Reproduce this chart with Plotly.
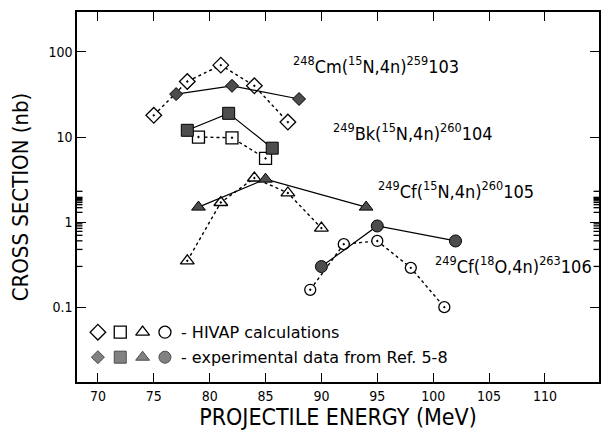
import math
import plotly.graph_objects as go

# Projectile energies (MeV) and cross sections (nb)
cm_calc_e = [75, 78, 81, 84, 87]
cm_calc_s = [18, 45, 70, 40, 15]
cm_exp_e = [77, 82, 88]
cm_exp_s = [32, 40, 28]

bk_calc_e = [79, 82, 85]
bk_calc_s = [10, 9.8, 5.6]
bk_exp_e = [78, 81.7, 85.6]
bk_exp_s = [12, 19, 7.4]

cf15_calc_e = [78, 81, 84, 87, 90]
cf15_calc_s = [0.35, 1.7, 3.3, 2.2, 0.85]
cf15_exp_e = [79, 85, 94]
cf15_exp_s = [1.5, 3.2, 1.5]

cf18_calc_e = [89, 92, 95, 98, 101]
cf18_calc_s = [0.16, 0.55, 0.6, 0.29, 0.1]
cf18_exp_e = [90, 95, 102]
cf18_exp_s = [0.3, 0.9, 0.6]

reactions = [
    "<sup>248</sup>Cm(<sup>15</sup>N,4n)<sup>259</sup>103",
    "<sup>249</sup>Bk(<sup>15</sup>N,4n)<sup>260</sup>104",
    "<sup>249</sup>Cf(<sup>15</sup>N,4n)<sup>260</sup>105",
    "<sup>249</sup>Cf(<sup>18</sup>O,4n)<sup>263</sup>106",
]
reaction_x = [87.3, 90.9, 94.9, 100.0]
reaction_y = [70, 11.6, 2.4, 0.31]

legend_x = [70, 72, 74, 76]
legend_y_calc = 0.0508
legend_y_exp = 0.0258
legend_text = ["- HIVAP calculations", "- experimental data from Ref. 5-8"]

x_ticks = [70, 75, 80, 85, 90, 95, 100, 105, 110]
y_log_range = [-1.88, 2.47]

FONT = "DejaVu Sans Condensed, DejaVu Sans, sans-serif"
FONT_WIDE = "DejaVu Sans, sans-serif"
FILL = "#4d4d4d"

calc_series = [
    (cm_calc_e, cm_calc_s, "diamond-dot", 12),
    (bk_calc_e, bk_calc_s, "square-dot", 12),
    (cf15_calc_e, cf15_calc_s, "triangle-up-dot", 12),
    (cf18_calc_e, cf18_calc_s, "circle-dot", 11),
]
exp_series = [
    (cm_exp_e, cm_exp_s, "diamond", 10),
    (bk_exp_e, bk_exp_s, "square", 12),
    (cf15_exp_e, cf15_exp_s, "triangle-up", 12),
    (cf18_exp_e, cf18_exp_s, "circle", 12),
]

fig = go.Figure()

for e, s, sym, size in calc_series:
    fig.add_trace(go.Scatter(
        x=e, y=s, mode="lines+markers",
        line=dict(color="black", width=1.4, dash="dot"),
        marker=dict(symbol=sym, size=size, color="white",
                    line=dict(color="black", width=1.3)),
        showlegend=False,
    ))

for e, s, sym, size in exp_series:
    fig.add_trace(go.Scatter(
        x=e, y=s, mode="lines+markers",
        line=dict(color="black", width=1.2),
        marker=dict(symbol=sym, size=size, color=FILL,
                    line=dict(color="black", width=1)),
        showlegend=False,
    ))

# legend keys
open_syms = ["diamond-open", "square-open", "triangle-up-open", "circle-open"]
filled_syms = ["diamond", "square", "triangle-up", "circle"]
fig.add_trace(go.Scatter(
    x=legend_x, y=[legend_y_calc] * 4, mode="markers",
    marker=dict(symbol=open_syms, size=12, color="black",
                line=dict(color="black", width=1.3)),
    showlegend=False, hoverinfo="skip",
))
fig.add_trace(go.Scatter(
    x=legend_x, y=[legend_y_exp] * 4, mode="markers",
    marker=dict(symbol=filled_syms, size=[10, 12, 12, 12], color=FILL,
                line=dict(color="black", width=1)),
    showlegend=False, hoverinfo="skip",
))

# annotations on a log axis take log10 positions
for txt, ly in zip(legend_text, [legend_y_calc, legend_y_exp]):
    fig.add_annotation(x=77.3, y=math.log10(ly), xref="x", yref="y", text=txt,
                       showarrow=False, xanchor="left", yanchor="middle",
                       font=dict(family=FONT_WIDE, size=16, color="black"))

for txt, rx, ry in zip(reactions, reaction_x, reaction_y):
    fig.add_annotation(x=rx, y=math.log10(ry), xref="x", yref="y", text=txt,
                       showarrow=False, xanchor="left", yanchor="middle",
                       font=dict(family=FONT, size=18, color="black"))

# minor log ticks (2..9 per decade) on the left and right frame
tick_frac = 5.5 / 524
for d in range(-2, 3):
    for m in range(2, 10):
        lv = math.log10(m * 10 ** d)
        if y_log_range[0] < lv < y_log_range[1]:
            for x0, x1 in [(0, tick_frac), (1 - tick_frac, 1)]:
                fig.add_shape(type="line", xref="paper", yref="y",
                              x0=x0, x1=x1, y0=lv, y1=lv, layer="above",
                              line=dict(color="black", width=1.3))

axis_common = dict(
    showline=True, linecolor="black", linewidth=1.5, mirror="allticks",
    ticks="inside", tickcolor="black", tickwidth=1.4, ticklen=9,
    showgrid=False, zeroline=False,
    tickfont=dict(family=FONT, size=14, color="black"),
)

fig.update_xaxes(
    range=[68.13, 114.84], tickmode="array", tickvals=x_ticks,
    title=dict(text="PROJECTILE ENERGY (MeV)", standoff=6,
               font=dict(family=FONT, size=23, color="black")),
    **axis_common,
)
fig.update_yaxes(
    type="log", range=y_log_range,
    tickmode="linear", tick0=0, dtick=1,
    title=dict(text="CROSS SECTION (nb)", standoff=14,
               font=dict(family=FONT, size=22, color="black")),
    **axis_common,
)

fig.update_layout(
    width=603, height=432,
    margin=dict(l=77, r=2, t=12, b=50),
    paper_bgcolor="white", plot_bgcolor="white",
    font=dict(family=FONT, color="black"),
)

fig.write_html("out.html")
